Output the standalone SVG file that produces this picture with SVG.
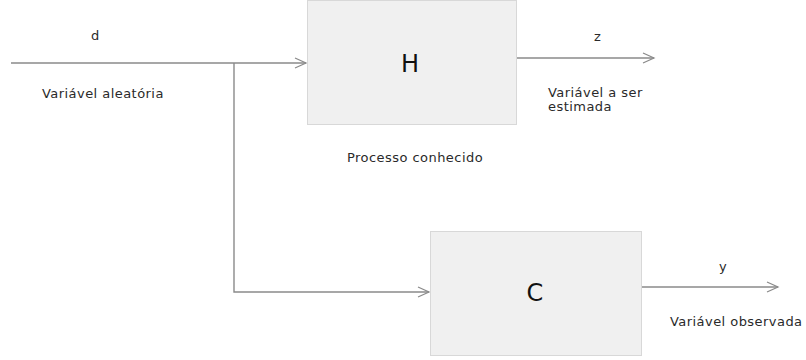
<svg xmlns="http://www.w3.org/2000/svg" width="806" height="360" viewBox="0 0 806 360">
  <defs>
    <marker id="arrow" markerWidth="14" markerHeight="14" refX="12" refY="6" orient="auto" markerUnits="userSpaceOnUse">
      <path d="M1,1 L12,6 L1,11" fill="none" stroke="#8a8a8a" stroke-width="1.2"/>
    </marker>
    <style>
      .box { fill: #f0f0f0; stroke: #d8d8d8; stroke-width: 1; }
      .wire { fill: none; stroke: #8a8a8a; stroke-width: 1.4; }
      .lbl { font-family: "DejaVu Sans", "Liberation Sans", sans-serif; font-size: 13px; letter-spacing: 0.45px; fill: #2a2a2a; }
      .big { font-family: "DejaVu Sans", "Liberation Sans", sans-serif; font-size: 24px; fill: #111; text-anchor: middle; }
    </style>
  </defs>
  <rect width="806" height="360" fill="#ffffff"/>

  <g id="connectors">
    <path class="wire" d="M11,63 L306,63" marker-end="url(#arrow)"/>
    <path class="wire" d="M234,63 L234,292 L429,292" marker-end="url(#arrow)"/>
    <path class="wire" d="M517,58 L654,58" marker-end="url(#arrow)"/>
    <path class="wire" d="M642,287 L778,287" marker-end="url(#arrow)"/>
  </g>

  <g id="node-H">
    <rect class="box" x="307.5" y="0.5" width="209" height="124"/>
    <text class="big" x="410" y="72">H</text>
  </g>

  <g id="node-C">
    <rect class="box" x="430.5" y="231.5" width="211" height="124"/>
    <text class="big" x="535" y="301">C</text>
  </g>

  <g id="labels">
    <text class="lbl" x="91" y="40">d</text>
    <text class="lbl" x="42" y="98">Variável aleatória</text>
    <text class="lbl" x="594" y="41">z</text>
    <text class="lbl" x="548" y="97">Variável a ser</text>
    <text class="lbl" x="548" y="111">estimada</text>
    <text class="lbl" x="347" y="162">Processo conhecido</text>
    <text class="lbl" x="719" y="271">y</text>
    <text class="lbl" x="670" y="326">Variável observada</text>
  </g>
</svg>
